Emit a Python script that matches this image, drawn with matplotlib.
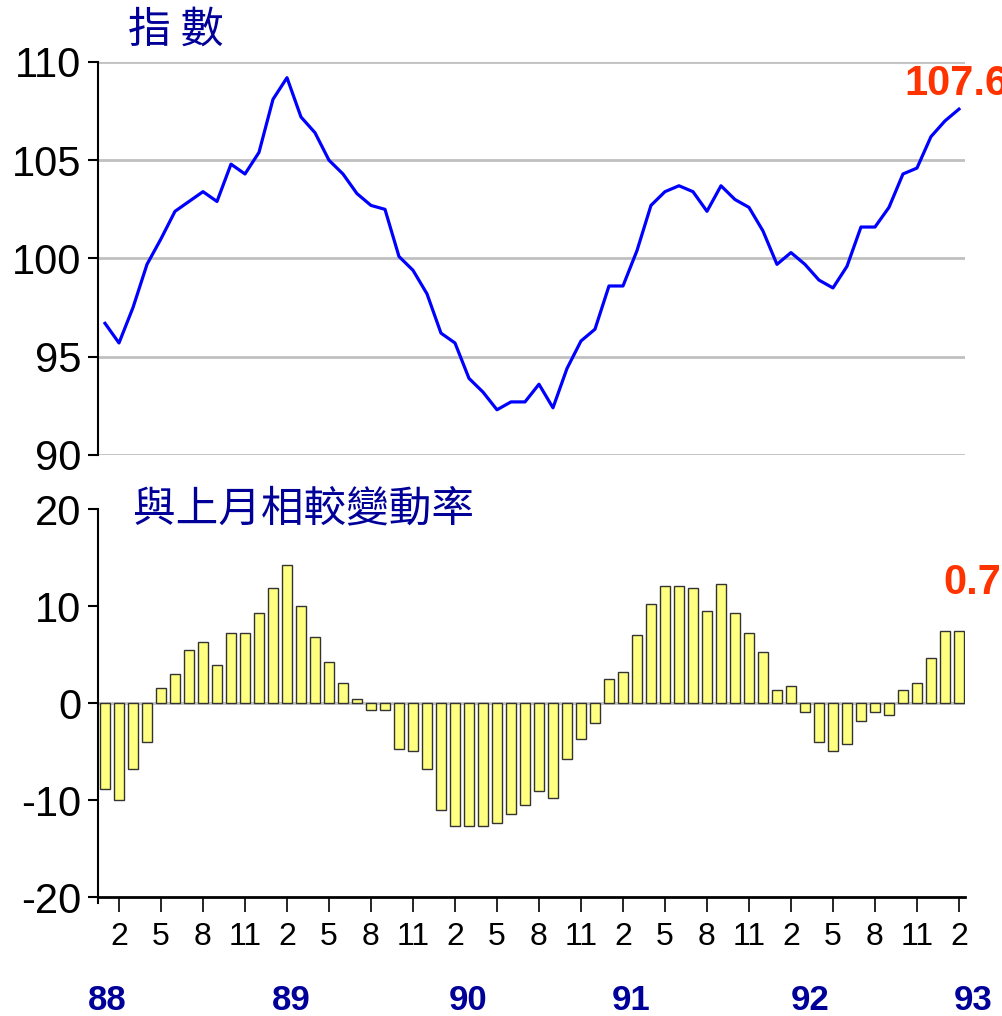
import numpy as np
import matplotlib
matplotlib.use('Agg')
import matplotlib.pyplot as plt
import matplotlib.transforms as mtransforms

plt.rcParams['font.family'] = ['Liberation Sans', 'Noto Sans CJK TC', 'DejaVu Sans']
plt.rcParams['axes.unicode_minus'] = False

# Monthly data, Jan 88 .. Feb 93
index_values = [96.7, 95.7, 97.5, 99.7, 101.0, 102.4, 102.9, 103.4, 102.9, 104.8,
                104.3, 105.4, 108.1, 109.2, 107.2, 106.4, 105.0, 104.3, 103.3, 102.7,
                102.5, 100.1, 99.4, 98.2, 96.2, 95.7, 93.9, 93.2, 92.3, 92.7,
                92.7, 93.6, 92.4, 94.4, 95.8, 96.4, 98.6, 98.6, 100.4, 102.7,
                103.4, 103.7, 103.4, 102.4, 103.7, 103.0, 102.6, 101.4, 99.7, 100.3,
                99.7, 98.9, 98.5, 99.6, 101.6, 101.6, 102.6, 104.3, 104.6, 106.2,
                107.0, 107.6]
change_values = [-8.9, -10.0, -6.8, -4.0, 1.6, 3.0, 5.5, 6.3, 3.9, 7.2,
                 7.2, 9.3, 11.9, 14.2, 10.0, 6.8, 4.2, 2.1, 0.4, -0.7,
                 -0.7, -4.7, -4.9, -6.8, -11.0, -12.7, -12.7, -12.7, -12.4, -11.4,
                 -10.5, -9.1, -9.8, -5.8, -3.7, -2.1, 2.5, 3.2, 7.0, 10.2,
                 12.1, 12.1, 11.9, 9.5, 12.3, 9.3, 7.2, 5.3, 1.3, 1.8,
                 -0.9, -4.0, -4.9, -4.2, -1.9, -0.9, -1.2, 1.3, 2.1, 4.6,
                 7.4, 7.4]
month_ticks = list(range(1, 62, 3))
month_labels = ['2', '5', '8', '11'] * 5 + ['2']
year_labels = ['88', '89', '90', '91', '92', '93']
year_label_pos = [0.15, 13.3, 25.9, 37.6, 50.4, 62.0]
last_index_label = '107.6'
last_change_label = '0.7'

x = np.arange(len(index_values))

navy = '#000099'
red = '#FF3300'
grid_gray = '#C0C0C0'

fig = plt.figure(figsize=(10.03, 10.16), dpi=100)
ax1 = fig.add_axes([0.0977, 0.5522, 0.8644, 0.3868])
ax2 = fig.add_axes([0.0977, 0.1171, 0.8644, 0.3819])

# top: index line
for v in [90, 95, 100, 105, 110]:
    ax1.axhline(v, color=grid_gray, lw=2, zorder=0)
ax1.plot(x, index_values, color='#0000FF', lw=2.3, zorder=3)
ax1.set_xlim(-0.5, 61.43)
ax1.set_ylim(90, 110)
ax1.set_yticks([90, 95, 100, 105, 110])
ax1.set_xticks([])
for s in ['top', 'right', 'bottom']:
    ax1.spines[s].set_visible(False)
ax1.spines['left'].set_linewidth(1.5)
ax1.tick_params(axis='y', length=7, width=1.5, pad=5, labelsize=30)
ax1.annotate(last_index_label, xy=(x[-1], index_values[-1]), xytext=(-39, 18),
             textcoords='offset points', ha='left', va='center', fontsize=30,
             fontweight='bold', color=red, annotation_clip=False)
fig.text(0.128, 0.970, '指 數', fontsize=31, color=navy, ha='left', va='center',
         family=['Noto Sans CJK TC', 'DejaVu Sans'])

# bottom: monthly change bars
ax2.axhline(0, color=grid_gray, lw=2, zorder=0)
ax2.bar(x, change_values, width=0.67, color='#FFFF80', edgecolor='#333333', lw=1, zorder=2)
ax2.set_xlim(-0.5, 61.43)
ax2.set_ylim(-20, 20)
ax2.set_yticks([-20, -10, 0, 10, 20])
ax2.set_xticks(month_ticks)
ax2.set_xticklabels(month_labels)
for s in ['top', 'right']:
    ax2.spines[s].set_visible(False)
ax2.spines['left'].set_linewidth(1.5)
ax2.spines['left'].set_bounds(-20.6, 20)
ax2.spines['bottom'].set_linewidth(2)
ax2.tick_params(axis='y', length=7, width=1.5, pad=5, labelsize=30)
ax2.tick_params(axis='x', length=11, width=1.2, pad=7, labelsize=23)
ax2.annotate(last_change_label, xy=(x[-1], change_values[-1]), xytext=(-11.5, 35),
             textcoords='offset points', ha='left', va='center', fontsize=30,
             fontweight='bold', color=red, annotation_clip=False)
ax2.text(0.04, 1.0, '與上月相較變動率', transform=ax2.transAxes, fontsize=30.7, color=navy,
         ha='left', va='center', family=['Noto Sans CJK TC', 'DejaVu Sans'])

trans = mtransforms.blended_transform_factory(ax2.transData, fig.transFigure)
for pos, lab in zip(year_label_pos, year_labels):
    ax2.text(pos, 0.0157, lab, transform=trans, ha='center', va='center',
             fontsize=25, fontweight='bold', color=navy)

fig.savefig('out.png', dpi=100)
